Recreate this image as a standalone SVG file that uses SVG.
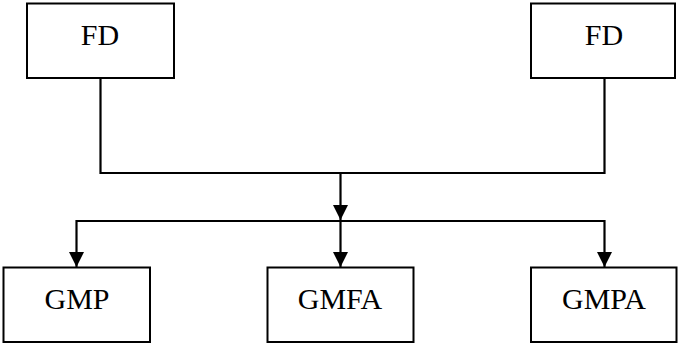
<svg xmlns="http://www.w3.org/2000/svg" width="678" height="345" viewBox="0 0 678 345">
<style>
.box{fill:#fff;stroke:#000;stroke-width:2}
.lbl{font-family:"Liberation Serif","Times New Roman",serif;font-size:30px;fill:#000;text-anchor:middle}
.ln{fill:none;stroke:#000;stroke-width:2.2}
</style>
<defs>
<marker id="ah" markerUnits="userSpaceOnUse" markerWidth="16" markerHeight="16" viewBox="0 0 16 16" refX="15" refY="8" orient="auto">
<path d="M0,0.5 L15,8 L0,15.5 Z" fill="#000"/>
</marker>
</defs>
<g id="connectors">
<polyline class="ln" points="100.5,78 100.5,173 604.5,173 604.5,78"/>
<line class="ln" x1="340.5" y1="173" x2="340.5" y2="220" marker-end="url(#ah)"/>
<line class="ln" x1="76" y1="221" x2="605" y2="221"/>
<line class="ln" x1="76.5" y1="220" x2="76.5" y2="267" marker-end="url(#ah)"/>
<line class="ln" x1="340.5" y1="221" x2="340.5" y2="267" marker-end="url(#ah)"/>
<line class="ln" x1="604.5" y1="220" x2="604.5" y2="267" marker-end="url(#ah)"/>
</g>
<g id="fd1"><rect class="box" x="27" y="3.5" width="147" height="74.5"/><text class="lbl" x="100" y="45">FD</text></g>
<g id="fd2"><rect class="box" x="531" y="3.5" width="144" height="74.5"/><text class="lbl" x="604" y="45">FD</text></g>
<g id="gmp"><rect class="box" x="3.5" y="267.5" width="146.5" height="74.5"/><text class="lbl" x="77" y="309">GMP</text></g>
<g id="gmfa"><rect class="box" x="267.5" y="267.5" width="146" height="74.5"/><text class="lbl" x="340" y="309">GMFA</text></g>
<g id="gmpa"><rect class="box" x="531" y="267.5" width="145.5" height="74.5"/><text class="lbl" x="604" y="309">GMPA</text></g>
</svg>
